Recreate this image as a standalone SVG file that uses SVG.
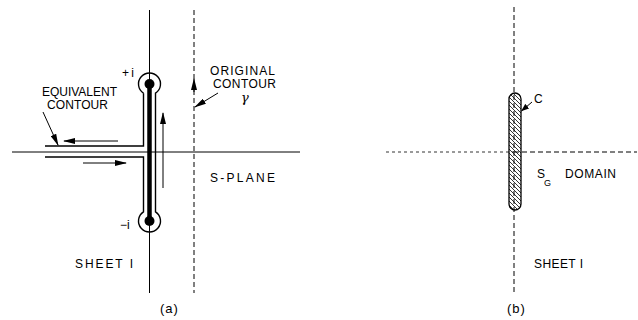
<svg xmlns="http://www.w3.org/2000/svg" width="638" height="320" viewBox="0 0 638 320">
<style>
.ln{stroke:#000;stroke-width:1;fill:none}
.th{stroke:#000;stroke-width:1.4;fill:none}
.ds{stroke:#000;stroke-width:1;fill:none;stroke-dasharray:5 3}
.dt{stroke:#000;stroke-width:0.8;fill:none;stroke-dasharray:3 3}
text{font-family:"Liberation Sans",Arial,sans-serif;font-size:12px;fill:#000}
.cap{font-size:13px;letter-spacing:1px}
</style>
<defs>
<marker id="ah" viewBox="0 0 12 6" refX="11" refY="3" markerWidth="12" markerHeight="6" markerUnits="userSpaceOnUse" orient="auto">
<path d="M0,0 L12,3 L0,6 Z" fill="#000"/>
</marker>
<marker id="ahs" viewBox="0 0 8 6" refX="7.5" refY="3" markerWidth="8" markerHeight="6" markerUnits="userSpaceOnUse" orient="auto">
<path d="M0,0 L8,3 L0,6 Z" fill="#000"/>
</marker>
<pattern id="hatch" width="4" height="4" patternUnits="userSpaceOnUse">
<path d="M-1,-1 L5,5 M-1,3 L1,5 M3,-1 L5,1" stroke="#000" stroke-width="0.8"/>
</pattern>
</defs>
<g id="panel-a">
<g id="axes-a">
<line class="ln" x1="12" y1="152" x2="300" y2="152"/>
<line class="ln" x1="149.5" y1="10" x2="149.5" y2="293"/>
<line class="ds" x1="194" y1="10" x2="194" y2="293"/>
</g>
<g id="equivalent-contour">
<path class="th" d="M143.5,93.2 L143.5,146 L45,146 M45,157 L143.5,157 L143.5,211.8 A11,11 0 1 0 155.5,211.8 L155.5,93.2 A11,11 0 1 0 143.5,93.2"/>
<line x1="149.5" y1="84" x2="149.5" y2="221" stroke="#000" stroke-width="4.5"/>
<circle cx="149.5" cy="84" r="5" fill="#000"/>
<circle cx="149.5" cy="221" r="5" fill="#000"/>
</g>
<g id="connectors">
<line class="ln" x1="163" y1="188" x2="163" y2="113" marker-end="url(#ah)"/>
<line class="ln" x1="118" y1="141" x2="64" y2="141" marker-end="url(#ah)"/>
<line class="ln" x1="83" y1="163" x2="126" y2="163" marker-end="url(#ah)"/>
<line class="ln" x1="194" y1="92" x2="194" y2="79" marker-end="url(#ah)"/>
<line class="ln" x1="218" y1="93" x2="195" y2="107" marker-end="url(#ah)"/>
<line class="ln" x1="43" y1="112" x2="58" y2="145" marker-end="url(#ah)"/>
<line class="ln" x1="532" y1="102" x2="521.5" y2="111" marker-end="url(#ahs)"/>
</g>
<g id="labels-a">
<text x="42" y="96" textLength="75" lengthAdjust="spacing">EQUIVALENT</text>
<text x="47" y="109" textLength="61" lengthAdjust="spacing">CONTOUR</text>
<text x="210" y="75" textLength="65" lengthAdjust="spacing">ORIGINAL</text>
<text x="213" y="88" textLength="63" lengthAdjust="spacing">CONTOUR</text>
<text x="241" y="102" style="font-family:'DejaVu Serif',serif;font-style:italic;font-size:13px">γ</text>
<text x="122" y="77" textLength="12" lengthAdjust="spacing">+i</text>
<text x="120" y="229">−i</text>
<text x="210" y="182" textLength="65" lengthAdjust="spacing">S-PLANE</text>
<text x="75" y="268" textLength="58" lengthAdjust="spacing">SHEET I</text>
<text class="cap" x="160" y="313">(a)</text>
</g>
</g>
<g id="panel-b">
<g id="axes-b">
<line class="ds" x1="514" y1="7" x2="514" y2="293"/>
<line class="dt" x1="386" y1="152" x2="514" y2="152"/>
<line class="ds" x1="514" y1="152" x2="637" y2="152"/>
</g>
<g id="cut-C">
<rect x="509" y="93" width="12" height="117" rx="6" ry="6" fill="url(#hatch)" stroke="#000" stroke-width="1.3"/>
</g>
<g id="labels-b">
<text x="534" y="103">C</text>
<text x="537" y="178">S</text>
<text x="544" y="186" style="font-size:9px">G</text>
<text x="565" y="178" textLength="51" lengthAdjust="spacing">DOMAIN</text>
<text x="534" y="268" textLength="49" lengthAdjust="spacing">SHEET I</text>
<text class="cap" x="507" y="313">(b)</text>
</g>
</g>
</svg>
